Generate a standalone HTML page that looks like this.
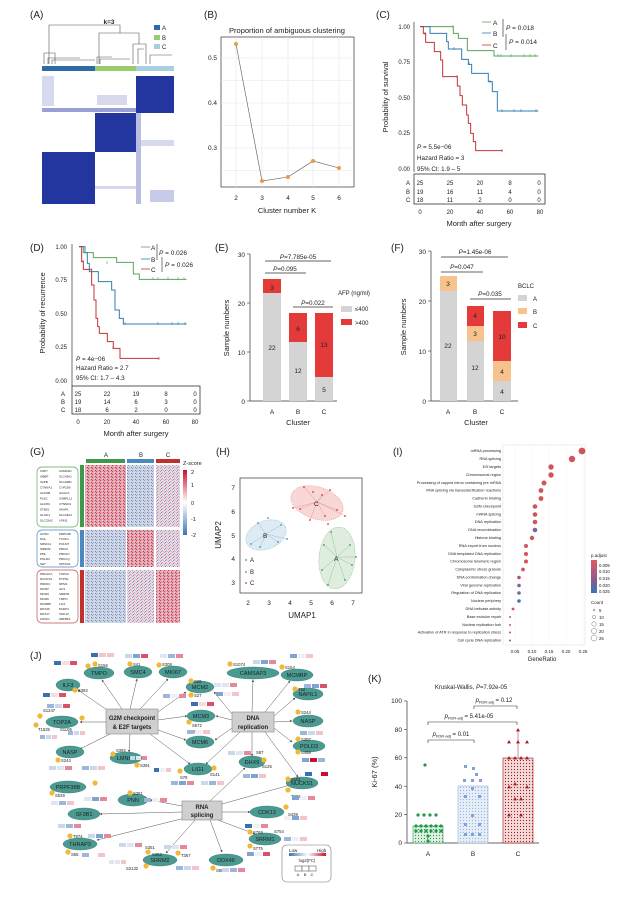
<!DOCTYPE html>
<html><head><meta charset="utf-8"><style>
html,body{margin:0;padding:0;background:#fff}
svg{display:block}
text{font-family:"Liberation Sans",sans-serif;fill:#222}
</style></head><body>
<svg width="635" height="907" viewBox="0 0 635 907" xmlns="http://www.w3.org/2000/svg">
<defs>
<pattern id="hmR" width="4" height="3" patternUnits="userSpaceOnUse"><rect width="4" height="3" fill="#e8a0aa"/><rect x="0" y="0" width="1" height="1" fill="#d0465a"/><rect x="2" y="1" width="1" height="1" fill="#f3d3d8"/><rect x="3" y="2" width="1" height="1" fill="#c7364b"/><rect x="1" y="2" width="1" height="1" fill="#a9c4df"/></pattern>
<pattern id="hmB" width="4" height="3" patternUnits="userSpaceOnUse"><rect width="4" height="3" fill="#c8d7ea"/><rect x="0" y="0" width="1" height="1" fill="#7ea5cf"/><rect x="2" y="1" width="1" height="1" fill="#f0d3d6"/><rect x="3" y="2" width="1" height="1" fill="#5f8fc3"/><rect x="1" y="2" width="1" height="1" fill="#e7a8b0"/></pattern>
<pattern id="hmM" width="4" height="3" patternUnits="userSpaceOnUse"><rect width="4" height="3" fill="#e4dbe6"/><rect x="0" y="0" width="1" height="1" fill="#90b2d6"/><rect x="2" y="1" width="1" height="1" fill="#e39aa5"/><rect x="3" y="2" width="1" height="1" fill="#b9cde4"/><rect x="1" y="2" width="1" height="1" fill="#d9707f"/></pattern>
<linearGradient id="zs" x1="0" y1="0" x2="0" y2="1"><stop offset="0" stop-color="#c8102e"/><stop offset="0.5" stop-color="#ffffff"/><stop offset="1" stop-color="#3b78b4"/></linearGradient>
<linearGradient id="pa" x1="0" y1="0" x2="0" y2="1"><stop offset="0" stop-color="#e25a5f"/><stop offset="0.6" stop-color="#8a5b8f"/><stop offset="1" stop-color="#3a75b8"/></linearGradient>
<linearGradient id="lh" x1="0" y1="0" x2="1" y2="0"><stop offset="0" stop-color="#3b6fb0"/><stop offset="0.5" stop-color="#fff"/><stop offset="1" stop-color="#c8102e"/></linearGradient>
<marker id="ar" markerWidth="5" markerHeight="5" refX="4" refY="2.5" orient="auto"><path d="M0,0 L5,2.5 L0,5 z" fill="#555"/></marker>
<pattern id="dotsA" width="3" height="3" patternUnits="userSpaceOnUse"><rect width="3" height="3" fill="#dff0e3"/><circle cx="1.5" cy="1.5" r="0.6" fill="#2e9a4e"/></pattern>
<pattern id="dotsB" width="3" height="3" patternUnits="userSpaceOnUse"><rect width="3" height="3" fill="#e6eef8"/><circle cx="1.5" cy="1.5" r="0.6" fill="#9ab5dc"/></pattern>
<pattern id="dotsC" width="3" height="3" patternUnits="userSpaceOnUse"><rect width="3" height="3" fill="#f3dada"/><circle cx="1.5" cy="1.5" r="0.6" fill="#a61c1c"/></pattern>
</defs>
<rect width="635" height="907" fill="#fff"/>

<!-- ===== A ===== -->
<text x="30" y="18" font-size="10">(A)</text>
<g stroke="#555" stroke-width="0.6" fill="none">
<path d="M49,64 V25 H120 V33"/>
<path d="M99,64 V33 H139 V44"/>
<path d="M133,64 V44 H146 V64"/>
<path d="M44,64 V53 H55 V64 M48,64 V58 H80 M52,64 V60 H95"/>
<path d="M97,64 V57 H112 M100,64 V59 H130"/>
<path d="M138,64 V49 H144 M150,64 V55 H172"/>
</g>
<text x="109" y="24" font-size="6.5" font-weight="bold" text-anchor="middle">k=3</text>
<rect x="154" y="25" width="6" height="5" fill="#2b6ca8"/><text x="162" y="30" font-size="6">A</text>
<rect x="154" y="35" width="6" height="5" fill="#9bcc6b"/><text x="162" y="40" font-size="6">B</text>
<rect x="154" y="44" width="6" height="5" fill="#a6cfe0"/><text x="162" y="49" font-size="6">C</text>
<rect x="42" y="66" width="53" height="5" fill="#2b6ca8"/>
<rect x="95" y="66" width="41" height="5" fill="#9bcc6b"/>
<rect x="136" y="66" width="38" height="5" fill="#a6cfe0"/>
<rect x="42" y="76" width="132" height="128" fill="#fff"/>
<rect x="136" y="76" width="38" height="37" fill="#2336a0"/>
<rect x="95" y="113" width="41" height="39" fill="#2336a0"/>
<rect x="42" y="152" width="53" height="52" fill="#2336a0"/>
<rect x="42" y="108" width="94" height="4" fill="#6f76c2" opacity="0.7"/>
<rect x="136" y="113" width="5" height="91" fill="#8c91cf" opacity="0.6"/>
<rect x="42" y="76" width="12" height="30" fill="#d7d9ef"/>
<rect x="97" y="95" width="30" height="10" fill="#d7d9ef"/>
<rect x="141" y="140" width="33" height="6" fill="#d7d9ef"/>
<rect x="150" y="190" width="24" height="12" fill="#c8cbe8"/>
<rect x="95" y="186" width="41" height="3" fill="#d7d9ef"/>

<!-- ===== B ===== -->
<text x="204" y="18" font-size="10">(B)</text>
<text x="287" y="33" font-size="7.5" text-anchor="middle" fill="#333">Proportion of ambiguous clustering</text>
<rect x="221" y="37" width="133" height="150" fill="#fff" stroke="#333" stroke-width="0.7"/>
<g stroke="#e4e4e4" stroke-width="0.6">
<line x1="221" x2="354" y1="58" y2="58"/><line x1="221" x2="354" y1="103" y2="103"/><line x1="221" x2="354" y1="148" y2="148"/>
<line x1="221" x2="354" y1="80.5" y2="80.5"/><line x1="221" x2="354" y1="125.5" y2="125.5"/><line x1="221" x2="354" y1="170.5" y2="170.5"/>
<line x1="236" x2="236" y1="37" y2="187"/><line x1="262" x2="262" y1="37" y2="187"/><line x1="288" x2="288" y1="37" y2="187"/><line x1="313" x2="313" y1="37" y2="187"/><line x1="339" x2="339" y1="37" y2="187"/>
</g>
<g font-size="6.5" fill="#444" text-anchor="end"><text x="217" y="60">0.5</text><text x="217" y="105">0.4</text><text x="217" y="150">0.3</text></g>
<g font-size="6.5" fill="#444" text-anchor="middle"><text x="236" y="200">2</text><text x="262" y="200">3</text><text x="288" y="200">4</text><text x="313" y="200">5</text><text x="339" y="200">6</text></g>
<text x="287" y="213" font-size="7.5" text-anchor="middle">Cluster number K</text>
<polyline points="236,44 262,181 288,177 313,161 339,168" fill="none" stroke="#555" stroke-width="0.6"/>
<g fill="#f0a030" stroke="#c07a10" stroke-width="0.3"><circle cx="236" cy="44" r="1.8"/><circle cx="262" cy="181" r="1.8"/><circle cx="288" cy="177" r="1.8"/><circle cx="313" cy="161" r="1.8"/><circle cx="339" cy="168" r="1.8"/></g>

<!-- ===== C ===== -->
<text x="376" y="18" font-size="10">(C)</text>
<text transform="translate(388,97) rotate(-90)" font-size="7.5" text-anchor="middle">Probability of survival</text>
<line x1="414" y1="22" x2="414" y2="172" stroke="#333" stroke-width="0.7"/>
<g font-size="6" fill="#444" text-anchor="end"><text x="410" y="29">1.00</text><text x="410" y="64">0.75</text><text x="410" y="100">0.50</text><text x="410" y="135">0.25</text><text x="410" y="171">0.00</text></g>
<g transform="translate(380,0) scale(0.3333)" fill="none" stroke-width="1">
<path vector-effect="non-scaling-stroke" stroke="#5aa55a" d="M120,80 H220 V100 H235 V115 H262 V152 H342 V168 H475"/>
<path vector-effect="non-scaling-stroke" stroke="#2f7fb0" d="M120,80 H150 V100 H200 V125 H205 V147 H245 V178 H265 V193 H275 V220 H325 V245 H337 V275 H352 V333 H475"/>
<path vector-effect="non-scaling-stroke" stroke="#c83232" d="M120,80 H130 V100 H137 V127 H163 V155 H182 V180 H188 V230 H232 V258 H240 V287 H247 V315 H260 V345 H265 V370 H272 V400 H280 V425 H287 V452 H368"/>
</g>
<g stroke-width="0.6"><path stroke="#5aa55a" d="M453,25 v3 M498,54 v3 M501,54 v3 M511,54 v3 M524,54 v3 M530,54 v3 M535,54 v3"/><path stroke="#2f7fb0" d="M454,47 v3 M469,62 v3 M490,80 v3 M502,109 v3 M514,109 v3 M521,109 v3 M536,109 v3"/><path stroke="#c83232" d="M425,32 v3 M457,75 v3 M502,149 v3"/></g>
<g font-size="6.5"><line x1="482" y1="22" x2="491" y2="22" stroke="#5aa55a" stroke-width="0.8"/><text x="493" y="25">A</text>
<line x1="482" y1="33" x2="491" y2="33" stroke="#2f7fb0" stroke-width="0.8"/><text x="493" y="36">B</text>
<line x1="482" y1="45" x2="491" y2="45" stroke="#c83232" stroke-width="0.8"/><text x="493" y="48">C</text>
<line x1="503" y1="19" x2="503" y2="37" stroke="#222" stroke-width="0.6"/><text x="506" y="30"><tspan font-style="italic">P</tspan> = 0.018</text>
<line x1="506" y1="34" x2="506" y2="50" stroke="#222" stroke-width="0.6"/><text x="509" y="44"><tspan font-style="italic">P</tspan> = 0.014</text></g>
<g font-size="6.3"><text x="417" y="149"><tspan font-style="italic">P</tspan> = 5.5e−06</text><text x="417" y="160">Hazard Ratio = 3</text><text x="417" y="171">95% CI: 1.9 – 5</text></g>
<rect x="414" y="174" width="131" height="30" fill="none" stroke="#333" stroke-width="0.8"/>
<g font-size="6" fill="#333"><text x="406" y="185">A</text><text x="406" y="194">B</text><text x="406" y="202">C</text></g>
<g font-size="6" fill="#333" text-anchor="middle">
<text x="420" y="185">25</text><text x="450" y="185">25</text><text x="480" y="185">20</text><text x="510" y="185">8</text><text x="539" y="185">0</text>
<text x="420" y="194">19</text><text x="450" y="194">16</text><text x="480" y="194">11</text><text x="510" y="194">4</text><text x="539" y="194">0</text>
<text x="420" y="202">18</text><text x="450" y="202">11</text><text x="480" y="202">2</text><text x="510" y="202">0</text><text x="539" y="202">0</text>
<text x="420" y="214">0</text><text x="450" y="214">20</text><text x="480" y="214">40</text><text x="510" y="214">60</text><text x="540" y="214">80</text></g>
<text x="479" y="226" font-size="7.5" text-anchor="middle">Month after surgery</text>

<!-- ===== D ===== -->
<text x="30" y="251" font-size="10">(D)</text>
<text transform="translate(45,313) rotate(-90)" font-size="7.5" text-anchor="middle">Probability of recurrence</text>
<line x1="72" y1="244" x2="72" y2="386" stroke="#333" stroke-width="0.7"/>
<g font-size="6" fill="#444" text-anchor="end"><text x="67" y="249">1.00</text><text x="67" y="282">0.75</text><text x="67" y="316">0.50</text><text x="67" y="349">0.25</text><text x="67" y="383">0.00</text></g>
<g transform="translate(0,230) scale(0.3333)" fill="none">
<path vector-effect="non-scaling-stroke" stroke="#5aa55a" d="M237,50 H250 V68 H280 V83 H350 V97 H400 V132 H418 V148 H560"/>
<path vector-effect="non-scaling-stroke" stroke="#2f7fb0" d="M237,50 H255 V68 H262 V100 H268 V125 H295 V155 H335 V180 H345 V240 H358 V265 H370 V282 H560"/>
<path vector-effect="non-scaling-stroke" stroke="#c83232" d="M237,50 H245 V95 H250 V118 H275 V165 H282 V210 H288 V265 H293 V290 H298 V310 H322 V335 H340 V355 H360 V385 H477"/>
</g>
<g stroke-width="0.6"><path stroke="#5aa55a" d="M107,261 v3 M153,277 v3 M158,277 v3 M168,277 v3 M178,277 v3 M184,277 v3"/><path stroke="#2f7fb0" d="M125,322 v3 M158,322 v3 M172,322 v3 M178,322 v3 M185,322 v3"/><path stroke="#c83232" d="M83,260 v3 M113,346 v3 M159,357 v3"/></g>
<g font-size="6.5"><line x1="141" y1="247" x2="150" y2="247" stroke="#5aa55a" stroke-width="0.8"/><text x="151" y="250">A</text>
<line x1="141" y1="259" x2="150" y2="259" stroke="#2f7fb0" stroke-width="0.8"/><text x="151" y="262">B</text>
<line x1="141" y1="269" x2="150" y2="269" stroke="#c83232" stroke-width="0.8"/><text x="151" y="272">C</text>
<line x1="157" y1="244" x2="157" y2="260" stroke="#222" stroke-width="0.6"/><text x="159" y="255"><tspan font-style="italic">P</tspan> = 0.026</text>
<line x1="162" y1="257" x2="162" y2="272" stroke="#222" stroke-width="0.6"/><text x="165" y="267"><tspan font-style="italic">P</tspan> = 0.026</text></g>
<g font-size="6.3"><text x="76" y="361"><tspan font-style="italic">P</tspan> = 4e−06</text><text x="76" y="370">Hazard Ratio = 2.7</text><text x="76" y="380">95% CI: 1.7 – 4.3</text></g>
<rect x="72" y="386" width="128" height="28" fill="none" stroke="#333" stroke-width="0.8"/>
<g font-size="6" fill="#333"><text x="61" y="396">A</text><text x="61" y="404">B</text><text x="61" y="412">C</text></g>
<g font-size="6" fill="#333" text-anchor="middle">
<text x="78" y="396">25</text><text x="107" y="396">22</text><text x="136" y="396">19</text><text x="166" y="396">8</text><text x="195" y="396">0</text>
<text x="78" y="404">19</text><text x="107" y="404">14</text><text x="136" y="404">6</text><text x="166" y="404">3</text><text x="195" y="404">0</text>
<text x="78" y="412">18</text><text x="107" y="412">6</text><text x="136" y="412">2</text><text x="166" y="412">0</text><text x="195" y="412">0</text>
<text x="78" y="424">0</text><text x="107" y="424">20</text><text x="136" y="424">40</text><text x="166" y="424">60</text><text x="195" y="424">80</text></g>
<text x="136" y="436" font-size="7.5" text-anchor="middle">Month after surgery</text>

<!-- ===== E ===== -->
<text x="215" y="251" font-size="10">(E)</text>
<text transform="translate(229,328) rotate(-90)" font-size="7.5" text-anchor="middle">Sample numbers</text>
<line x1="250" y1="254" x2="250" y2="401" stroke="#333" stroke-width="0.7"/>
<line x1="250" y1="401" x2="337" y2="401" stroke="#333" stroke-width="0.7"/>
<g stroke="#333" stroke-width="0.6"><line x1="247" x2="250" y1="254" y2="254"/><line x1="247" x2="250" y1="303" y2="303"/><line x1="247" x2="250" y1="352" y2="352"/><line x1="247" x2="250" y1="401" y2="401"/></g>
<g font-size="6.5" text-anchor="end"><text x="245" y="257">30</text><text x="245" y="306">20</text><text x="245" y="355">10</text><text x="245" y="404">0</text></g>
<rect x="263" y="293" width="18" height="108" fill="#d4d4d4"/><rect x="263" y="279" width="18" height="14" fill="#e53a3a"/>
<rect x="289" y="342" width="18" height="59" fill="#d4d4d4"/><rect x="289" y="313" width="18" height="29" fill="#e53a3a"/>
<rect x="315" y="377" width="18" height="24" fill="#d4d4d4"/><rect x="315" y="313" width="18" height="64" fill="#e53a3a"/>
<g font-size="6.5" text-anchor="middle"><text x="272" y="290">3</text><text x="272" y="350">22</text><text x="298" y="331">6</text><text x="298" y="373">12</text><text x="324" y="347">13</text><text x="324" y="392">5</text>
<text x="272" y="414">A</text><text x="298" y="414">B</text><text x="324" y="414">C</text></g>
<text x="298" y="425" font-size="7.5" text-anchor="middle">Cluster</text>
<g stroke="#333" stroke-width="0.7"><line x1="265" x2="331" y1="261" y2="261"/><line x1="265" x2="306" y1="273" y2="273"/><line x1="293" x2="333" y1="307" y2="307"/></g>
<g font-size="6.3" text-anchor="middle"><text x="298" y="259"><tspan font-style="italic">P</tspan>=7.785e-05</text><text x="285" y="271"><tspan font-style="italic">P</tspan>=0.095</text><text x="313" y="305"><tspan font-style="italic">P</tspan>=0.022</text></g>
<text x="338" y="295" font-size="6">AFP (ng/ml)</text>
<rect x="341" y="306" width="11" height="6" fill="#d4d4d4"/><text x="355" y="311" font-size="6">≤400</text>
<rect x="341" y="319" width="11" height="6" fill="#e53a3a"/><text x="355" y="325" font-size="6">&gt;400</text>

<!-- ===== F ===== -->
<text x="391" y="251" font-size="10">(F)</text>
<text transform="translate(406,327) rotate(-90)" font-size="7.5" text-anchor="middle">Sample numbers</text>
<line x1="431" y1="251" x2="431" y2="401" stroke="#333" stroke-width="0.7"/>
<line x1="431" y1="401" x2="518" y2="401" stroke="#333" stroke-width="0.7"/>
<g stroke="#333" stroke-width="0.6"><line x1="428" x2="431" y1="251" y2="251"/><line x1="428" x2="431" y1="301" y2="301"/><line x1="428" x2="431" y1="351" y2="351"/><line x1="428" x2="431" y1="401" y2="401"/></g>
<g font-size="6.5" text-anchor="end"><text x="426" y="254">30</text><text x="426" y="304">20</text><text x="426" y="354">10</text><text x="426" y="404">0</text></g>
<rect x="440" y="291" width="17" height="110" fill="#d4d4d4"/><rect x="440" y="276" width="17" height="15" fill="#f8c28c"/>
<rect x="467" y="341" width="17" height="60" fill="#d4d4d4"/><rect x="467" y="326" width="17" height="15" fill="#f8c28c"/><rect x="467" y="306" width="17" height="20" fill="#e53a3a"/>
<rect x="493" y="381" width="18" height="20" fill="#d4d4d4"/><rect x="493" y="361" width="18" height="20" fill="#f8c28c"/><rect x="493" y="311" width="18" height="50" fill="#e53a3a"/>
<g font-size="6.5" text-anchor="middle"><text x="448" y="286">3</text><text x="448" y="348">22</text><text x="475" y="318">4</text><text x="475" y="336">3</text><text x="475" y="370">12</text><text x="502" y="339">10</text><text x="502" y="374">4</text><text x="502" y="394">4</text>
<text x="448" y="414">A</text><text x="475" y="414">B</text><text x="502" y="414">C</text></g>
<text x="476" y="425" font-size="7.5" text-anchor="middle">Cluster</text>
<g stroke="#333" stroke-width="0.7"><line x1="441" x2="483" y1="272" y2="272"/><line x1="470" x2="511" y1="299" y2="299"/></g>
<line x1="441" x2="508" y1="257" y2="257" stroke="#999" stroke-width="1.6"/>
<g font-size="6.3" text-anchor="middle"><text x="475" y="254"><tspan font-style="italic">P</tspan>=1.45e-06</text><text x="462" y="269"><tspan font-style="italic">P</tspan>=0.047</text><text x="490" y="296"><tspan font-style="italic">P</tspan>=0.035</text></g>
<text x="518" y="288" font-size="6">BCLC</text>
<rect x="518" y="295" width="9" height="6" fill="#d4d4d4"/><text x="533" y="301" font-size="6">A</text>
<rect x="518" y="308" width="9" height="6" fill="#f8c28c"/><text x="533" y="314" font-size="6">B</text>
<rect x="518" y="322" width="9" height="6" fill="#e53a3a"/><text x="533" y="328" font-size="6">C</text>

<!-- ===== G ===== -->
<text x="30" y="455" font-size="10">(G)</text>
<g font-size="6" text-anchor="middle"><text x="106" y="457">A</text><text x="141" y="457">B</text><text x="168" y="457">C</text></g>
<rect x="86" y="459" width="39" height="4" fill="#3e9a4a"/><rect x="127" y="459" width="27" height="4" fill="#4a88c0"/><rect x="156" y="459" width="24" height="4" fill="#c0302d"/>
<rect x="80" y="465" width="4" height="62" fill="#3e9a4a"/><rect x="80" y="530" width="4" height="37" fill="#4a88c0"/><rect x="80" y="570" width="4" height="53" fill="#c0302d"/>
<rect x="85" y="465" width="41" height="62" fill="url(#hmR)"/><rect x="127" y="465" width="27" height="62" fill="url(#hmB)"/><rect x="156" y="465" width="24" height="62" fill="url(#hmM)"/>
<rect x="85" y="530" width="41" height="37" fill="url(#hmB)"/><rect x="127" y="530" width="27" height="37" fill="url(#hmR)"/><rect x="156" y="530" width="24" height="37" fill="url(#hmM)"/>
<rect x="85" y="570" width="41" height="53" fill="url(#hmB)"/><rect x="127" y="570" width="27" height="53" fill="url(#hmM)"/><rect x="156" y="570" width="24" height="53" fill="url(#hmR)"/>
<rect x="37" y="467" width="41" height="60" rx="5" fill="none" stroke="#5aa55a" stroke-width="0.7"/>
<rect x="37" y="530" width="41" height="37" rx="5" fill="none" stroke="#4a88c0" stroke-width="0.7"/>
<rect x="37" y="570" width="41" height="53" rx="5" fill="none" stroke="#c05050" stroke-width="0.7"/>
<g font-size="3" fill="#333">
<text x="40" y="472">USP7</text><text x="40" y="477.5">OBBP</text><text x="40" y="483">VAPB</text><text x="40" y="488.5">CTNNA1</text><text x="40" y="494">ALDOB</text><text x="40" y="499.5">PLEC</text><text x="40" y="505">ALDOC</text><text x="40" y="510.5">STB01</text><text x="40" y="516">GLUD1</text><text x="40" y="521.5">SLC22A2</text>
<text x="59" y="472">CAMK2D</text><text x="59" y="477.5">SLC43A1</text><text x="59" y="483">SLC22B1</text><text x="59" y="488.5">CYP2D6</text><text x="59" y="494">ACACA</text><text x="59" y="499.5">OSBPL11</text><text x="59" y="505">CTNND1</text><text x="59" y="510.5">AKAP1</text><text x="59" y="516">SLC19A3</text><text x="59" y="521.5">LPIN2</text>
<text x="40" y="535">ACIN1</text><text x="40" y="540">NOL</text><text x="40" y="545">SRSF11</text><text x="40" y="550">SRRM2</text><text x="40" y="555">PML</text><text x="40" y="560">POLD3</text><text x="40" y="565">SET</text>
<text x="59" y="535">PRPF4B</text><text x="59" y="540">TCOF1</text><text x="59" y="545">POLM7</text><text x="59" y="550">PRKCI</text><text x="59" y="555">PRKCD</text><text x="59" y="560">PRKCQ</text><text x="59" y="565">SPTAN1</text>
<text x="40" y="575">PRKACA</text><text x="40" y="580">NUCKS1</text><text x="40" y="585">PRKDC</text><text x="40" y="590">MCM2</text><text x="40" y="595">MCM3</text><text x="40" y="600">MCM6</text><text x="40" y="605">MCMBP</text><text x="40" y="610">DDX46</text><text x="40" y="615">DDX17</text><text x="40" y="620">FOXK1</text>
<text x="59" y="575">TOP2A</text><text x="59" y="580">PTPN1</text><text x="59" y="585">NPM1</text><text x="59" y="590">ILF3</text><text x="59" y="595">SRRM1</text><text x="59" y="600">TMPO</text><text x="59" y="605">LIG1</text><text x="59" y="610">PARP4</text><text x="59" y="615">CDK13</text><text x="59" y="620">SRFBP1</text></g>
<text x="183" y="465" font-size="5.5">Z-score</text>
<rect x="183" y="470" width="4" height="65" fill="url(#zs)"/>
<g font-size="5.5"><text x="191" y="474">2</text><text x="191" y="487">1</text><text x="191" y="505">0</text><text x="191" y="521">-1</text><text x="191" y="537">-2</text></g>

<!-- ===== H ===== -->
<text x="216" y="455" font-size="10">(H)</text>
<rect x="240" y="478" width="122" height="115" fill="#fff" stroke="#333" stroke-width="0.7"/>
<g font-size="6.5" text-anchor="end"><text x="235" y="490">7</text><text x="235" y="514">6</text><text x="235" y="538">5</text><text x="235" y="561">4</text><text x="235" y="585">3</text></g>
<g font-size="6.5" text-anchor="middle"><text x="248" y="605">2</text><text x="269" y="605">3</text><text x="290" y="605">4</text><text x="311" y="605">5</text><text x="332" y="605">6</text><text x="353" y="605">7</text></g>
<text x="302" y="618" font-size="8" text-anchor="middle">UMAP1</text>
<text transform="translate(221,535) rotate(-90)" font-size="8" text-anchor="middle">UMAP2</text>
<ellipse cx="317" cy="503" rx="27" ry="16" transform="rotate(18 317 503)" fill="#f3c8c6" fill-opacity="0.7" stroke="#e08080" stroke-width="0.5" stroke-dasharray="1,1"/>
<ellipse cx="266" cy="535" rx="21" ry="14" transform="rotate(-22 266 535)" fill="#cfe2ee" fill-opacity="0.7" stroke="#6fa3c8" stroke-width="0.5" stroke-dasharray="1,1"/>
<ellipse cx="337" cy="558" rx="18" ry="31" transform="rotate(5 337 558)" fill="#d6e8d4" fill-opacity="0.8" stroke="#6aab6a" stroke-width="0.5" stroke-dasharray="1,1"/>
<g stroke="#e07070" stroke-width="0.3"><path d="M317,502 L304,487 M317,502 L330,490 M317,502 L322,495 M317,502 L300,509 M317,502 L337,510 M317,502 L310,520 M317,502 L325,516 M317,502 L293,508 M317,502 L345,516"/></g>
<g fill="#d03535"><circle cx="304" cy="487" r="0.9"/><circle cx="330" cy="490" r="0.9"/><circle cx="322" cy="495" r="0.9"/><circle cx="300" cy="509" r="0.9"/><circle cx="337" cy="510" r="0.9"/><circle cx="310" cy="520" r="0.9"/><circle cx="325" cy="516" r="0.9"/><circle cx="293" cy="508" r="0.9"/><circle cx="345" cy="516" r="0.9"/><circle cx="328" cy="524" r="0.9"/><circle cx="313" cy="492" r="0.9"/></g>
<g stroke="#6fa3c8" stroke-width="0.3"><path d="M266,534 L258,523 M266,534 L281,525 M266,534 L251,544 M266,534 L278,542 M266,534 L287,539 M266,534 L260,547"/></g>
<g fill="#4a88c0"><circle cx="258" cy="523" r="0.9"/><circle cx="281" cy="525" r="0.9"/><circle cx="251" cy="544" r="0.9"/><circle cx="278" cy="542" r="0.9"/><circle cx="287" cy="539" r="0.9"/><circle cx="260" cy="547" r="0.9"/><circle cx="268" cy="518" r="0.9"/></g>
<g stroke="#6aab6a" stroke-width="0.3"><path d="M337,557 L331,532 M337,557 L324,545 M337,557 L350,545 M337,557 L322,570 M337,557 L352,565 M337,557 L328,585 M337,557 L345,580 M337,557 L356,557"/></g>
<g fill="#3e9a4a"><circle cx="331" cy="532" r="0.9"/><circle cx="324" cy="545" r="0.9"/><circle cx="350" cy="545" r="0.9"/><circle cx="322" cy="570" r="0.9"/><circle cx="352" cy="565" r="0.9"/><circle cx="328" cy="585" r="0.9"/><circle cx="345" cy="580" r="0.9"/><circle cx="356" cy="557" r="0.9"/></g>
<g font-size="6.5"><text x="314" y="506">C</text><text x="263" y="538">B</text><text x="334" y="561">A</text></g>
<circle cx="246" cy="560" r="0.9" fill="#3e9a4a"/><text x="250" y="562" font-size="6">A</text>
<circle cx="246" cy="572" r="0.9" fill="#4a88c0"/><text x="250" y="574" font-size="6">B</text>
<circle cx="246" cy="583" r="0.9" fill="#d03535"/><text x="250" y="585" font-size="6">C</text>

<!-- ===== I ===== -->
<text x="393" y="455" font-size="10">(I)</text>
<rect x="503" y="445" width="82" height="200" fill="#fff" stroke="#ddd" stroke-width="0.5"/>
<g stroke="#eee" stroke-width="0.4"><line x1="515" x2="515" y1="445" y2="645"/><line x1="532" x2="532" y1="445" y2="645"/><line x1="549" x2="549" y1="445" y2="645"/><line x1="566" x2="566" y1="445" y2="645"/><line x1="583" x2="583" y1="445" y2="645"/></g>
<g font-size="3.8" fill="#333" text-anchor="end">
<text x="501" y="452">mRNA processing</text><text x="501" y="460">RNA splicing</text><text x="501" y="468">E2f targets</text><text x="501" y="476">Chromosomal region</text><text x="501" y="484">Processing of capped intron containing pre mRNA</text><text x="501" y="491.5">RNA splicing via transesterification reactions</text><text x="501" y="499.5">Cadherin binding</text><text x="501" y="507.5">G2M checkpoint</text><text x="501" y="515.5">mRNA splicing</text><text x="501" y="523">DNA replication</text><text x="501" y="531">DNA recombination</text><text x="501" y="539">Histone binding</text><text x="501" y="547">RNA export from nucleus</text><text x="501" y="555">DNA templated DNA replication</text><text x="501" y="562.5">Chromosome telomeric region</text><text x="501" y="570.5">Cytoplasmic stress granule</text><text x="501" y="578.5">DNA conformation change</text><text x="501" y="586.5">Viral genome replication</text><text x="501" y="594">Regulation of DNA replication</text><text x="501" y="602">Nuclear periphery</text><text x="501" y="610">DNA helicase activity</text><text x="501" y="618">Base excision repair</text><text x="501" y="626">Nuclear replication fork</text><text x="501" y="633.5">Activation of ATR in response to replication stress</text><text x="501" y="641.5">Cell cycle DNA replication</text></g>
<g fill="#d0555a">
<circle cx="582" cy="451" r="3.4"/><circle cx="572" cy="459" r="3.2"/><circle cx="551" cy="467" r="2.7"/><circle cx="551" cy="475" r="2.7"/><circle cx="544" cy="483" r="2.5"/><circle cx="541" cy="490.5" r="2.4"/><circle cx="541" cy="498.5" r="2.4"/><circle cx="535" cy="506.5" r="2.3"/><circle cx="535" cy="514.5" r="2.3"/><circle cx="535" cy="522" r="2.3"/><circle cx="535" cy="530" r="2.3" fill="#7b6699"/><circle cx="532" cy="538" r="2.2"/><circle cx="526" cy="546" r="2"/><circle cx="526" cy="554" r="2"/><circle cx="526" cy="561.5" r="2"/><circle cx="523" cy="569.5" r="1.9"/><circle cx="519" cy="577.5" r="1.8" fill="#b9506a"/><circle cx="519" cy="585.5" r="1.8" fill="#7b6699"/><circle cx="519" cy="593" r="1.8" fill="#7b6699"/><circle cx="519" cy="601" r="1.8" fill="#3a75b8"/><circle cx="513" cy="609" r="1.4" fill="#c0556b"/><circle cx="510" cy="617" r="1" fill="#c0556b"/><circle cx="510" cy="625" r="1" fill="#c0556b"/><circle cx="510" cy="632.5" r="1" fill="#a85a78"/><circle cx="510" cy="640.5" r="1" fill="#8a5b8f"/></g>
<g font-size="4.5" fill="#444" text-anchor="middle"><text x="515" y="653">0.05</text><text x="532" y="653">0.10</text><text x="549" y="653">0.15</text><text x="566" y="653">0.20</text><text x="583" y="653">0.25</text></g>
<text x="542" y="661" font-size="6" text-anchor="middle">GeneRatio</text>
<text x="591" y="557" font-size="4.5">p.adjust</text>
<rect x="591" y="560" width="6" height="33" fill="url(#pa)"/>
<g font-size="4.3"><text x="599" y="567">0.005</text><text x="599" y="573">0.010</text><text x="599" y="580">0.015</text><text x="599" y="587">0.020</text><text x="599" y="593">0.025</text></g>
<text x="591" y="604" font-size="4.5">Count</text>
<g fill="none" stroke="#555" stroke-width="0.4"><circle cx="594" cy="610" r="1"/><circle cx="594" cy="617" r="1.7"/><circle cx="594" cy="624" r="2.2"/><circle cx="594" cy="631" r="2.6"/><circle cx="594" cy="638" r="3"/></g>
<g font-size="4.3"><text x="599" y="612">5</text><text x="599" y="619">10</text><text x="599" y="626">15</text><text x="599" y="633">20</text><text x="599" y="640">25</text></g>

<!-- ===== J ===== -->
<text x="30" y="659" font-size="10">(J)</text>
<g stroke="#555" stroke-width="0.5" marker-end="url(#ar)">
<line x1="122" y1="709" x2="102" y2="680"/><line x1="130" y1="709" x2="137" y2="679"/><line x1="140" y1="709" x2="168" y2="679"/><line x1="110" y1="712" x2="78" y2="690"/><line x1="106" y1="722" x2="80" y2="722"/><line x1="110" y1="734" x2="80" y2="749"/><line x1="130" y1="734" x2="129" y2="752"/><line x1="150" y1="734" x2="190" y2="764"/><line x1="158" y1="712" x2="186" y2="692"/><line x1="158" y1="720" x2="187" y2="716"/><line x1="158" y1="730" x2="186" y2="740"/>
<line x1="252" y1="712" x2="253" y2="680"/><line x1="265" y1="712" x2="290" y2="681"/><line x1="274" y1="716" x2="295" y2="698"/><line x1="274" y1="722" x2="292" y2="721"/><line x1="274" y1="728" x2="292" y2="742"/><line x1="265" y1="732" x2="298" y2="777"/><line x1="252" y1="732" x2="252" y2="756"/><line x1="240" y1="732" x2="206" y2="764"/><line x1="232" y1="714" x2="214" y2="692"/><line x1="232" y1="720" x2="216" y2="716"/><line x1="232" y1="728" x2="215" y2="740"/>
<line x1="182" y1="806" x2="150" y2="800"/><line x1="182" y1="812" x2="100" y2="814"/><line x1="185" y1="818" x2="97" y2="840"/><line x1="195" y1="820" x2="166" y2="853"/><line x1="210" y1="820" x2="222" y2="852"/><line x1="218" y1="820" x2="255" y2="834"/><line x1="222" y1="812" x2="250" y2="812"/><line x1="222" y1="804" x2="290" y2="785"/><line x1="210" y1="801" x2="245" y2="768"/></g>
<g fill="#cfcfcf" stroke="#888" stroke-width="0.6">
<rect x="106" y="709" width="52" height="25"/><rect x="232" y="712" width="42" height="20"/><rect x="182" y="801" width="40" height="19"/></g>
<g font-size="6" font-weight="bold" text-anchor="middle"><text x="132" y="720">G2M checkpoint</text><text x="132" y="729">&amp; E2F targets</text><text x="253" y="720">DNA</text><text x="253" y="729">replication</text><text x="202" y="809">RNA</text><text x="202" y="817">splicing</text></g>
<g fill="#4a9a92" stroke="#2f7570" stroke-width="0.4">
<ellipse cx="99" cy="673" rx="15" ry="6"/><ellipse cx="138" cy="672" rx="14" ry="6"/><ellipse cx="173" cy="672" rx="14" ry="6"/><ellipse cx="253" cy="673" rx="26" ry="6"/><ellipse cx="297" cy="675" rx="16" ry="6"/>
<ellipse cx="68" cy="685" rx="12" ry="6"/><ellipse cx="200" cy="687" rx="14" ry="6"/><ellipse cx="308" cy="694" rx="15" ry="6"/><ellipse cx="62" cy="722" rx="16" ry="6"/><ellipse cx="201" cy="716" rx="14" ry="6"/><ellipse cx="308" cy="721" rx="15" ry="6"/><ellipse cx="200" cy="742" rx="14" ry="6"/><ellipse cx="309" cy="746" rx="16" ry="6"/><ellipse cx="70" cy="752" rx="14" ry="6"/><ellipse cx="126" cy="758" rx="16" ry="6"/><ellipse cx="198" cy="769" rx="14" ry="6"/><ellipse cx="252" cy="762" rx="13" ry="6"/><ellipse cx="302" cy="783" rx="16" ry="6"/><ellipse cx="68" cy="787" rx="18" ry="6"/><ellipse cx="133" cy="800" rx="15" ry="6"/><ellipse cx="267" cy="812" rx="17" ry="6"/><ellipse cx="84" cy="814" rx="16" ry="6"/><ellipse cx="265" cy="839" rx="16" ry="6"/><ellipse cx="80" cy="844" rx="17" ry="6"/><ellipse cx="160" cy="860" rx="17" ry="6"/><ellipse cx="226" cy="860" rx="17" ry="6"/></g>
<g font-size="5.5" text-anchor="middle" fill="#0d2a2a">
<text x="99" y="675">TMPO</text><text x="138" y="674">SMC4</text><text x="173" y="674">MKI67</text><text x="253" y="675">CAMSAP3</text><text x="297" y="677">MCMBP</text><text x="68" y="687">ILF3</text><text x="200" y="689">MCM2</text><text x="308" y="696">NAPIL1</text><text x="62" y="724">TOP2A</text><text x="201" y="718">MCM3</text><text x="308" y="723">NASP</text><text x="200" y="744">MCM6</text><text x="309" y="748">POLD3</text><text x="70" y="754">NASP</text><text x="126" y="760">LMNB1</text><text x="198" y="771">LIG1</text><text x="252" y="764">DHX9</text><text x="302" y="785">NUCKS1</text><text x="68" y="789">PRPF38B</text><text x="133" y="802">PNN</text><text x="267" y="814">CDK13</text><text x="84" y="816">SF3B1</text><text x="265" y="841">SRRM1</text><text x="80" y="846">THRAP3</text><text x="160" y="862">SRRM2</text><text x="226" y="862">DDX46</text></g>
<g fill="#f1b93a"><circle cx="88" cy="666" r="2.6"/><circle cx="95" cy="664" r="2.6"/><circle cx="130" cy="664" r="2.6"/><circle cx="159" cy="665" r="2.6"/><circle cx="230" cy="664" r="2.6"/><circle cx="282" cy="667" r="2.6"/><circle cx="75" cy="690" r="2.6"/><circle cx="191" cy="681" r="2.6"/><circle cx="191" cy="695" r="2.6"/><circle cx="295" cy="689" r="2.6"/><circle cx="40" cy="716" r="2.6"/><circle cx="82" cy="718" r="2.6"/><circle cx="36" cy="725" r="2.6"/><circle cx="189" cy="722" r="2.6"/><circle cx="298" cy="712" r="2.6"/><circle cx="298" cy="739" r="2.6"/><circle cx="298" cy="752" r="2.6"/><circle cx="58" cy="760" r="2.6"/><circle cx="113" cy="754" r="2.6"/><circle cx="137" cy="765" r="2.6"/><circle cx="180" cy="771" r="2.6"/><circle cx="214" cy="768" r="2.6"/><circle cx="264" cy="760" r="2.6"/><circle cx="288" cy="779" r="2.6"/><circle cx="288" cy="790" r="2.6"/><circle cx="95" cy="783" r="2.6"/><circle cx="52" cy="793" r="2.6"/><circle cx="130" cy="793" r="2.6"/><circle cx="286" cy="807" r="2.6"/><circle cx="250" cy="832" r="2.6"/><circle cx="250" cy="846" r="2.6"/><circle cx="70" cy="836" r="2.6"/><circle cx="68" cy="852" r="2.6"/><circle cx="148" cy="852" r="2.6"/><circle cx="178" cy="853" r="2.6"/><circle cx="146" cy="866" r="2.6"/><circle cx="213" cy="868" r="2.6"/></g>
<g font-size="4.2" fill="#333"><text x="98" y="667">S156</text><text x="133" y="666">S41</text><text x="162" y="666">S308</text><text x="233" y="666">S1074</text><text x="285" y="669">S154</text><text x="78" y="692">S382</text><text x="194" y="683">S26</text><text x="194" y="697">S27</text><text x="298" y="691">T52</text><text x="43" y="712">S1247</text><text x="60" y="731">S1106</text><text x="38" y="731">T1525</text><text x="192" y="727">S672</text><text x="301" y="714">S244</text><text x="301" y="741">S307</text><text x="301" y="754">S458</text><text x="61" y="762">S244</text><text x="116" y="752">S392</text><text x="140" y="767">S391</text><text x="180" y="779">S78</text><text x="210" y="776">S141</text><text x="256" y="754">S87</text><text x="262" y="768">S125</text><text x="291" y="781">S181</text><text x="291" y="798">T202</text><text x="55" y="797">S529</text><text x="133" y="795">S381</text><text x="288" y="816">S439</text><text x="253" y="834">S769</text><text x="253" y="850">S775</text><text x="274" y="833">S754</text><text x="73" y="838">T874</text><text x="71" y="856">S55</text><text x="152" y="856">S353</text><text x="145" y="849">S351</text><text x="181" y="857">T367</text><text x="126" y="870">S2132</text><text x="216" y="872">S804</text><text x="188" y="733">S762</text></g>
<g id="tiles">
<g transform="translate(91,653)"><rect width="7" height="4" fill="#3a6fb0"/><rect x="8" width="7" height="4" fill="#f2c5cc"/><rect x="16" width="7" height="4" fill="#f2c5cc"/></g>
<g transform="translate(54,661)"><rect width="7" height="4" fill="#3a6fb0"/><rect x="8" width="7" height="4" fill="#f5dde0"/><rect x="16" width="7" height="4" fill="#d8506a"/></g>
<g transform="translate(125,654)"><rect width="7" height="4" fill="#c9d8ec"/><rect x="8" width="7" height="4" fill="#7fa4d0"/><rect x="16" width="7" height="4" fill="#d8506a"/></g>
<g transform="translate(160,654)"><rect width="7" height="4" fill="#dfe6f2"/><rect x="8" width="7" height="4" fill="#9bb8dc"/><rect x="16" width="7" height="4" fill="#e58a9a"/></g>
<g transform="translate(253,660)"><rect width="7" height="4" fill="#c9d8ec"/><rect x="8" width="7" height="4" fill="#7fa4d0"/><rect x="16" width="7" height="4" fill="#e58a9a"/></g>
<g transform="translate(290,654)"><rect width="7" height="4" fill="#7fa4d0"/><rect x="8" width="7" height="4" fill="#eef0f6"/><rect x="16" width="7" height="4" fill="#f2c5cc"/></g>
<g transform="translate(43,693)"><rect width="7" height="4" fill="#3a6fb0"/><rect x="8" width="7" height="4" fill="#f5dde0"/><rect x="16" width="7" height="4" fill="#d8506a"/></g>
<g transform="translate(163,694)"><rect width="7" height="4" fill="#9bb8dc"/><rect x="8" width="7" height="4" fill="#eef0f6"/><rect x="16" width="7" height="4" fill="#e58a9a"/></g>
<g transform="translate(191,702)"><rect width="7" height="4" fill="#3a6fb0"/><rect x="8" width="7" height="4" fill="#f5dde0"/><rect x="16" width="7" height="4" fill="#d8506a"/></g>
<g transform="translate(216,692)"><rect width="7" height="4" fill="#7fa4d0"/><rect x="8" width="7" height="4" fill="#eef0f6"/><rect x="16" width="7" height="4" fill="#f2c5cc"/></g>
<g transform="translate(214,683)"><rect width="7" height="4" fill="#dfe6f2"/><rect x="8" width="7" height="4" fill="#dfe6f2"/><rect x="16" width="7" height="4" fill="#e58a9a"/></g>
<g transform="translate(304,684)"><rect width="7" height="4" fill="#9bb8dc"/><rect x="8" width="7" height="4" fill="#7fa4d0"/><rect x="16" width="7" height="4" fill="#d8506a"/></g>
<g transform="translate(47,704)"><rect width="7" height="4" fill="#9bb8dc"/><rect x="8" width="7" height="4" fill="#c9d8ec"/><rect x="16" width="7" height="4" fill="#d8506a"/></g>
<g transform="translate(40,735)"><rect width="5" height="4" fill="#9bb8dc"/><rect x="6" width="5" height="4" fill="#c9d8ec"/><rect x="12" width="5" height="4" fill="#f2c5cc"/></g>
<g transform="translate(68,731)"><rect width="5" height="4" fill="#9bb8dc"/><rect x="6" width="5" height="4" fill="#c9d8ec"/><rect x="12" width="5" height="4" fill="#f2c5cc"/></g>
<g transform="translate(187,730)"><rect width="7" height="4" fill="#9bb8dc"/><rect x="8" width="7" height="4" fill="#eef0f6"/><rect x="16" width="7" height="4" fill="#f2c5cc"/></g>
<g transform="translate(300,731)"><rect width="7" height="4" fill="#9bb8dc"/><rect x="8" width="7" height="4" fill="#c9d8ec"/><rect x="16" width="7" height="4" fill="#f2c5cc"/></g>
<g transform="translate(302,758)"><rect width="7" height="4" fill="#7fa4d0"/><rect x="8" width="7" height="4" fill="#c8102e"/><rect x="16" width="7" height="4" fill="#9bb8dc"/></g>
<g transform="translate(49,766)"><rect width="7" height="4" fill="#c9d8ec"/><rect x="8" width="7" height="4" fill="#dfe6f2"/><rect x="16" width="7" height="4" fill="#e58a9a"/></g>
<g transform="translate(82,766)"><rect width="7" height="4" fill="#9bb8dc"/><rect x="8" width="7" height="4" fill="#c9d8ec"/><rect x="16" width="7" height="4" fill="#f2c5cc"/></g>
<g transform="translate(130,756)"><rect width="5" height="4" fill="#c9d8ec"/><rect x="6" width="5" height="4" fill="#dfe6f2"/><rect x="12" width="5" height="4" fill="#e58a9a"/></g>
<g transform="translate(154,768)"><rect width="5" height="4" fill="#3a6fb0"/><rect x="6" width="5" height="4" fill="#eef0f6"/><rect x="12" width="5" height="4" fill="#f2c5cc"/></g>
<g transform="translate(171,781)"><rect width="7" height="4" fill="#9bb8dc"/><rect x="8" width="7" height="4" fill="#7fa4d0"/><rect x="16" width="7" height="4" fill="#e58a9a"/></g>
<g transform="translate(201,781)"><rect width="7" height="4" fill="#c9d8ec"/><rect x="8" width="7" height="4" fill="#9bb8dc"/><rect x="16" width="7" height="4" fill="#f2c5cc"/></g>
<g transform="translate(228,751)"><rect width="7" height="4" fill="#c9d8ec"/><rect x="8" width="7" height="4" fill="#dfe6f2"/><rect x="16" width="7" height="4" fill="#e58a9a"/></g>
<g transform="translate(243,774)"><rect width="7" height="4" fill="#9bb8dc"/><rect x="8" width="7" height="4" fill="#7fa4d0"/><rect x="16" width="7" height="4" fill="#f2c5cc"/></g>
<g transform="translate(305,772)"><rect width="7" height="4" fill="#3a6fb0"/><rect x="8" width="7" height="4" fill="#fff"/><rect x="16" width="7" height="4" fill="#c8102e"/></g>
<g transform="translate(292,796)"><rect width="7" height="4" fill="#7fa4d0"/><rect x="8" width="7" height="4" fill="#eef0f6"/><rect x="16" width="7" height="4" fill="#e58a9a"/></g>
<g transform="translate(84,797)"><rect width="7" height="4" fill="#dfe6f2"/><rect x="8" width="7" height="4" fill="#7fa4d0"/><rect x="16" width="7" height="4" fill="#e58a9a"/></g>
<g transform="translate(51,801)"><rect width="7" height="4" fill="#dfe6f2"/><rect x="8" width="7" height="4" fill="#9bb8dc"/><rect x="16" width="7" height="4" fill="#f2c5cc"/></g>
<g transform="translate(144,798)"><rect width="7" height="4" fill="#9bb8dc"/><rect x="8" width="7" height="4" fill="#eef0f6"/><rect x="16" width="7" height="4" fill="#e58a9a"/></g>
<g transform="translate(284,816)"><rect width="7" height="4" fill="#eef0f6"/><rect x="8" width="7" height="4" fill="#7fa4d0"/><rect x="16" width="7" height="4" fill="#f2c5cc"/></g>
<g transform="translate(58,824)"><rect width="7" height="4" fill="#c9d8ec"/><rect x="8" width="7" height="4" fill="#9bb8dc"/><rect x="16" width="7" height="4" fill="#e58a9a"/></g>
<g transform="translate(245,824)"><rect width="7" height="4" fill="#3a6fb0"/><rect x="8" width="7" height="4" fill="#eef0f6"/><rect x="16" width="7" height="4" fill="#e58a9a"/></g>
<g transform="translate(284,837)"><rect width="7" height="4" fill="#9bb8dc"/><rect x="8" width="7" height="4" fill="#eef0f6"/><rect x="16" width="7" height="4" fill="#f2c5cc"/></g>
<g transform="translate(247,852)"><rect width="7" height="4" fill="#7fa4d0"/><rect x="8" width="7" height="4" fill="#eef0f6"/><rect x="16" width="7" height="4" fill="#d8506a"/></g>
<g transform="translate(88,834)"><rect width="7" height="4" fill="#c9d8ec"/><rect x="8" width="7" height="4" fill="#7fa4d0"/><rect x="16" width="7" height="4" fill="#e58a9a"/></g>
<g transform="translate(82,853)"><rect width="7" height="4" fill="#9bb8dc"/><rect x="8" width="7" height="4" fill="#fff"/><rect x="16" width="7" height="4" fill="#f2c5cc"/></g>
<g transform="translate(119,843)"><rect width="7" height="4" fill="#c9d8ec"/><rect x="8" width="7" height="4" fill="#dfe6f2"/><rect x="16" width="7" height="4" fill="#e58a9a"/></g>
<g transform="translate(164,845)"><rect width="7" height="4" fill="#c9d8ec"/><rect x="8" width="7" height="4" fill="#dfe6f2"/><rect x="16" width="7" height="4" fill="#e58a9a"/></g>
<g transform="translate(176,866)"><rect width="7" height="4" fill="#9bb8dc"/><rect x="8" width="7" height="4" fill="#c9d8ec"/><rect x="16" width="7" height="4" fill="#f2c5cc"/></g>
<g transform="translate(109,860)"><rect width="5" height="4" fill="#dfe6f2"/><rect x="6" width="5" height="4" fill="#dfe6f2"/><rect x="12" width="5" height="4" fill="#f2c5cc"/></g>
<g transform="translate(222,868)"><rect width="7" height="4" fill="#c9d8ec"/><rect x="8" width="7" height="4" fill="#9bb8dc"/><rect x="16" width="7" height="4" fill="#e58a9a"/></g>
</g>
<rect x="282" y="845" width="49" height="37" rx="5" fill="#fff" stroke="#777" stroke-width="0.6"/>
<text x="289" y="852" font-size="4.5">Low</text><text x="317" y="852" font-size="4.5">High</text>
<rect x="289" y="853" width="37" height="3" fill="url(#lh)"/>
<text x="307" y="862" font-size="4.3" text-anchor="middle">log2(FC)</text>
<g fill="#fff" stroke="#444" stroke-width="0.5"><rect x="295" y="866" width="7" height="5"/><rect x="302" y="866" width="7" height="5"/><rect x="309" y="866" width="7" height="5"/></g>
<g font-size="3.8" text-anchor="middle"><text x="298" y="876">A</text><text x="305" y="876">B</text><text x="312" y="876">C</text></g>

<!-- ===== K ===== -->
<text x="368" y="682" font-size="10">(K)</text>
<text x="471" y="689" font-size="6" text-anchor="middle">Kruskal-Wallis, <tspan font-style="italic">P</tspan>=7.92e-05</text>
<text transform="translate(377,772) rotate(-90)" font-size="7.5" text-anchor="middle">Ki-67 (%)</text>
<line x1="407" y1="701" x2="407" y2="843" stroke="#333" stroke-width="0.7"/>
<line x1="407" y1="843" x2="539" y2="843" stroke="#333" stroke-width="0.7"/>
<g stroke="#333" stroke-width="0.6"><line x1="404" x2="407" y1="701" y2="701"/><line x1="404" x2="407" y1="729.4" y2="729.4"/><line x1="404" x2="407" y1="757.8" y2="757.8"/><line x1="404" x2="407" y1="786.2" y2="786.2"/><line x1="404" x2="407" y1="814.6" y2="814.6"/><line x1="404" x2="407" y1="843" y2="843"/></g>
<g font-size="6.5" text-anchor="end"><text x="402" y="703">100</text><text x="402" y="732">80</text><text x="402" y="760">60</text><text x="402" y="789">40</text><text x="402" y="817">20</text><text x="402" y="845">0</text></g>
<rect x="413" y="826" width="30" height="17" fill="url(#dotsA)" stroke="#2e9a4e" stroke-width="0.6"/>
<rect x="458" y="786" width="30" height="57" fill="url(#dotsB)" stroke="#9ab5dc" stroke-width="0.6"/>
<rect x="503" y="758" width="30" height="85" fill="url(#dotsC)" stroke="#a61c1c" stroke-width="0.6"/>
<g fill="#1e9a48">
<circle cx="418" cy="815" r="1.6"/><circle cx="424" cy="815" r="1.6"/><circle cx="430" cy="815" r="1.6"/><circle cx="436" cy="815" r="1.6"/>
<circle cx="416" cy="826" r="1.6"/><circle cx="421" cy="826" r="1.6"/><circle cx="426" cy="826" r="1.6"/><circle cx="431" cy="826" r="1.6"/><circle cx="436" cy="826" r="1.6"/><circle cx="441" cy="826" r="1.6"/>
<circle cx="416" cy="831" r="1.6"/><circle cx="421" cy="831" r="1.6"/><circle cx="426" cy="831" r="1.6"/><circle cx="431" cy="831" r="1.6"/><circle cx="436" cy="831" r="1.6"/><circle cx="441" cy="831" r="1.6"/>
<circle cx="428" cy="836" r="1.6"/><circle cx="428" cy="841" r="1.6"/><circle cx="425" cy="765" r="1.6"/></g>
<g fill="#7fa2d8">
<rect x="464" y="765" width="3" height="3"/><rect x="475" y="773" width="3" height="3"/><rect x="472" y="767" width="3" height="3"/><rect x="463" y="779" width="3" height="3"/><rect x="471" y="779" width="3" height="3"/><rect x="479" y="779" width="3" height="3"/><rect x="471" y="787" width="3" height="3"/><rect x="464" y="795" width="3" height="3"/><rect x="478" y="795" width="3" height="3"/><rect x="471" y="814" width="3" height="3"/><rect x="464" y="823" width="3" height="3"/><rect x="478" y="823" width="3" height="3"/><rect x="464" y="833" width="3" height="3"/><rect x="471" y="833" width="3" height="3"/><rect x="478" y="833" width="3" height="3"/></g>
<g fill="#a61c1c">
<path d="M518,728 l2,3.4 h-4z M509,740 l2,3.4 h-4z M518,740 l2,3.4 h-4z M527,740 l2,3.4 h-4z M509,756 l2,3.4 h-4z M515,756 l2,3.4 h-4z M521,756 l2,3.4 h-4z M527,756 l2,3.4 h-4z M515,782 l2,3.4 h-4z M509,785 l2,3.4 h-4z M527,785 l2,3.4 h-4z M515,797 l2,3.4 h-4z M521,797 l2,3.4 h-4z M509,813 l2,3.4 h-4z M521,813 l2,3.4 h-4z"/></g>
<line x1="518" y1="729" x2="518" y2="758" stroke="#a61c1c" stroke-width="0.5"/>
<g stroke="#333" stroke-width="0.6" fill="none"><path d="M428,743 V740 H474 V743"/><path d="M428,725 V722 H517 V725"/><path d="M474,709 V706 H517 V709"/></g>
<g font-size="6" text-anchor="middle"><text x="451" y="736"><tspan font-style="italic">p</tspan><tspan font-size="4" dy="1.5">FDR-adj</tspan><tspan dy="-1.5"> = 0.01</tspan></text>
<text x="469" y="718"><tspan font-style="italic">p</tspan><tspan font-size="4" dy="1.5">FDR-adj</tspan><tspan dy="-1.5"> = 5.41e-05</tspan></text>
<text x="494" y="702"><tspan font-style="italic">p</tspan><tspan font-size="4" dy="1.5">FDR-adj</tspan><tspan dy="-1.5"> = 0.12</tspan></text></g>
<g font-size="6.5" text-anchor="middle"><text x="428" y="856">A</text><text x="473" y="856">B</text><text x="518" y="856">C</text></g>
</svg>
</body></html>
